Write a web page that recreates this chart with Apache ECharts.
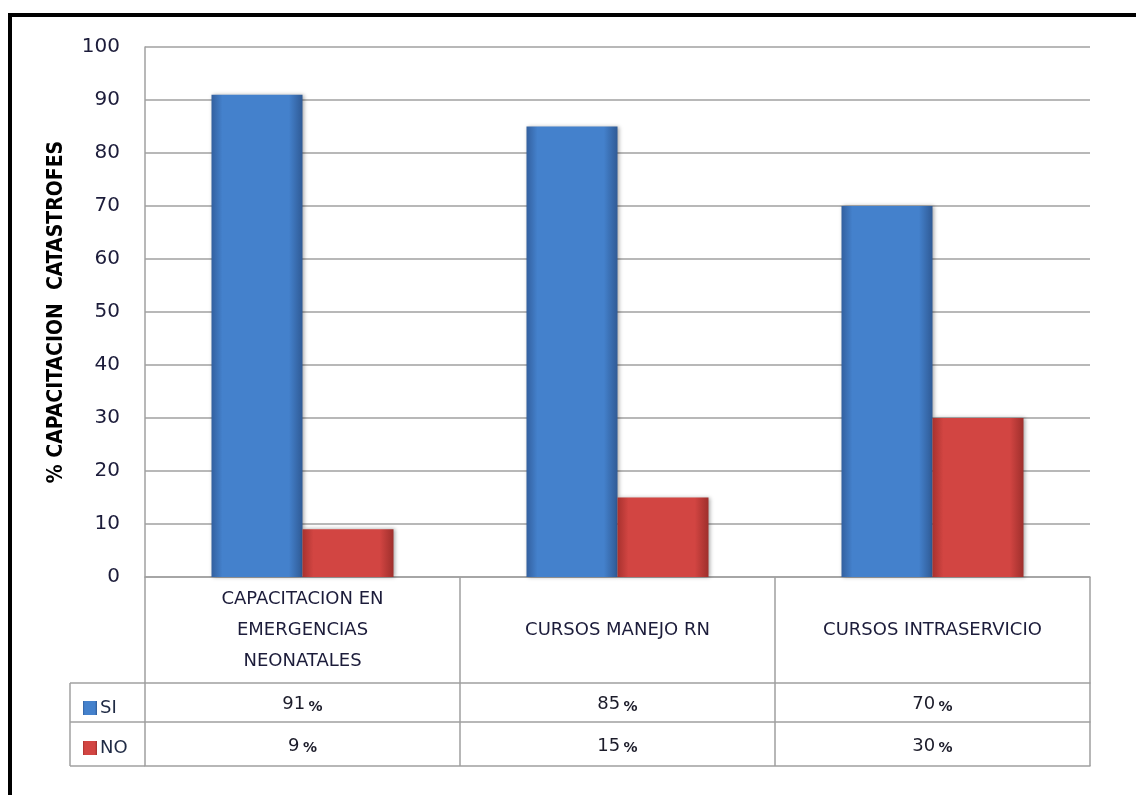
<!DOCTYPE html>
<html>
<head>
<meta charset="utf-8">
<script src="https://cdn.jsdelivr.net/npm/echarts@6/dist/echarts.min.js"></script>
<style>
  html, body { margin: 0; padding: 0; background: #fff; }
  #chart { width: 1136px; height: 795px; }
</style>
</head>
<body>
<div id="chart"></div>
<script>
// data
const categories = ['CAPACITACION EN\nEMERGENCIAS\nNEONATALES', 'CURSOS MANEJO RN', 'CURSOS INTRASERVICIO']
const siValues = [91, 85, 70]
const noValues = [9, 15, 30]
const yTicks = [0, 10, 20, 30, 40, 50, 60, 70, 80, 90, 100]

// layout of plot + data table
const gridLeft = 145
const gridRight = 46
const gridTop = 47
const gridBottom = 218
const rowCat = 106   // category row in table
const rowSi = 39
const rowNo = 44
const headLeft = 70
const axisY = 795 - gridBottom
const lineColor = '#a0a0a0'
const font = 'DejaVu Sans'

function barGradient(edge, mid, edge2) {
  return new echarts.graphic.LinearGradient(0, 0, 1, 0, [
    { offset: 0, color: edge },
    { offset: 0.12, color: mid },
    { offset: 0.85, color: mid },
    { offset: 1, color: edge2 }
  ])
}

function tableLabel(vals) {
  return function (v, i) {
    return '{v|' + vals[i] + '} {p|%}'
  }
}

const pctRich = {
  v: { fontSize: 18, color: '#1c1c2a', fontFamily: font },
  p: { fontSize: 14, color: '#1c1c2a', fontFamily: font, fontWeight: 'bold', padding: [5, 0, 0, 0] }
}

function tick(len) {
  return { show: true, interval: 0, length: len, lineStyle: { color: lineColor, width: 1.5 } }
}

const chart = echarts.init(document.getElementById('chart'))
chart.setOption({
  backgroundColor: '#fff',
  animation: false,
  grid: { left: gridLeft, right: gridRight, top: gridTop, bottom: gridBottom },
  legend: {
    orient: 'vertical',
    left: headLeft + 8,
    top: axisY + rowCat + 11,
    icon: 'rect',
    itemWidth: 14,
    itemHeight: 14,
    itemGap: 22,
    textStyle: { fontSize: 18, color: '#1f2a44', fontFamily: font, padding: [0, 0, 0, -2] },
    data: ['SI', 'NO']
  },
  xAxis: [
    {
      type: 'category',
      data: categories,
      axisLine: { lineStyle: { color: lineColor, width: 1.5 } },
      axisTick: tick(rowCat),
      axisLabel: {
        interval: 0, margin: rowCat / 2, verticalAlign: 'middle', lineHeight: 31,
        fontSize: 18, color: '#1c1c3a', fontFamily: font
      }
    },
    {
      type: 'category',
      data: categories,
      position: 'bottom',
      offset: rowCat,
      axisLine: { lineStyle: { color: lineColor, width: 1.5 } },
      axisTick: tick(rowSi),
      axisLabel: { interval: 0, margin: rowSi / 2 + 2, verticalAlign: 'middle', formatter: tableLabel(siValues), rich: pctRich }
    },
    {
      type: 'category',
      data: categories,
      position: 'bottom',
      offset: rowCat + rowSi,
      axisLine: { lineStyle: { color: lineColor, width: 1.5 } },
      axisTick: tick(rowNo),
      axisLabel: { interval: 0, margin: rowNo / 2 + 2, verticalAlign: 'middle', formatter: tableLabel(noValues), rich: pctRich }
    },
    {
      type: 'category',
      data: categories,
      position: 'bottom',
      offset: rowCat + rowSi + rowNo,
      axisLine: { lineStyle: { color: lineColor, width: 1.5 } },
      axisTick: { show: false },
      axisLabel: { show: false }
    }
  ],
  yAxis: {
    type: 'value',
    min: yTicks[0],
    max: yTicks[yTicks.length - 1],
    interval: 10,
    name: '% CAPACITACION  CATASTROFES',
    nameLocation: 'middle',
    nameRotate: 90,
    nameGap: 78,
    nameTextStyle: { fontSize: 21, fontWeight: 'bold', color: '#000', fontFamily: 'DejaVu Sans Condensed' },
    axisLine: { show: true, lineStyle: { color: lineColor, width: 1.5 } },
    axisTick: { show: false },
    axisLabel: { fontSize: 20, margin: 25, color: '#1c1c3a', fontFamily: font },
    splitLine: { lineStyle: { color: lineColor, width: 1.5 } }
  },
  series: [
    {
      name: 'SI',
      type: 'bar',
      data: siValues,
      barWidth: 91,
      barGap: '0%',
      itemStyle: {
        color: barGradient('#33609f', '#4481cc', '#2f5a95'),
        shadowColor: 'rgba(0,0,0,0.35)', shadowBlur: 4, shadowOffsetX: 1
      }
    },
    {
      name: 'NO',
      type: 'bar',
      data: noValues,
      barWidth: 91,
      barGap: '0%',
      itemStyle: {
        color: barGradient('#a8322f', '#d24542', '#9e2f2c'),
        shadowColor: 'rgba(0,0,0,0.35)', shadowBlur: 4, shadowOffsetX: 1
      }
    }
  ],
  graphic: [
    // outer black frame (only top/left visible)
    { type: 'rect', shape: { x: 10, y: 15, width: 1300, height: 1000 }, style: { fill: null, stroke: '#000', lineWidth: 4 }, silent: true },
    // row header box of data table
    { type: 'line', shape: { x1: headLeft, y1: axisY + rowCat, x2: headLeft, y2: axisY + rowCat + rowSi + rowNo }, style: { stroke: lineColor, lineWidth: 1.5 } },
    { type: 'line', shape: { x1: headLeft, y1: axisY + rowCat, x2: gridLeft, y2: axisY + rowCat }, style: { stroke: lineColor, lineWidth: 1.5 } },
    { type: 'line', shape: { x1: headLeft, y1: axisY + rowCat + rowSi, x2: gridLeft, y2: axisY + rowCat + rowSi }, style: { stroke: lineColor, lineWidth: 1.5 } },
    { type: 'line', shape: { x1: headLeft, y1: axisY + rowCat + rowSi + rowNo, x2: gridLeft, y2: axisY + rowCat + rowSi + rowNo }, style: { stroke: lineColor, lineWidth: 1.5 } }
  ]
})
</script>
</body>
</html>
